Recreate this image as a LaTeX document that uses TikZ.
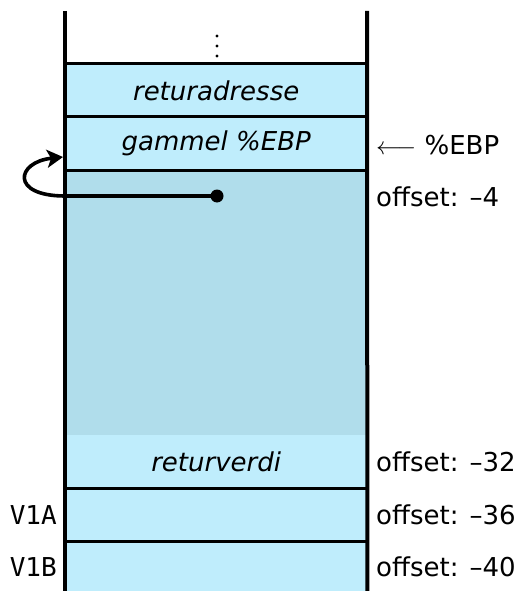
\documentclass[tikz,border=0pt]{standalone}
\usepackage{fontspec}
\setmainfont{DejaVu Sans}
\setmonofont{DejaVu Sans Mono}
\usetikzlibrary{arrows.meta}
\definecolor{cellblue}{HTML}{BFEDFC}
\definecolor{localblue}{HTML}{B0DDEB}
\begin{document}
\begin{tikzpicture}[x=1pt,y=-1pt,
  every node/.style={font=\fontsize{26}{31}\selectfont},
  cell/.style={fill=cellblue, minimum width=302pt, inner sep=0pt, anchor=north west},
  localcell/.style={cell, fill=localblue},
  sep/.style={line width=3pt},
  wall/.style={line width=4pt},
  offs/.style={anchor=west, inner sep=0pt},
  varname/.style={anchor=east, inner sep=0pt, font=\fontsize{26}{31}\selectfont\ttfamily},
  link/.style={line width=3.6pt, -{Stealth[length=16pt,width=18pt,inset=4pt]}}]
\useasboundingbox (0,0) rectangle (519,591);

% stack cells, top to bottom
\node[cell, minimum height=53pt] (ret) at (65,64) {\itshape returadresse};
\node[cell, minimum height=53pt] (ebp) at (65,117) {\itshape gammel \%EBP};
\node[localcell, minimum height=265pt] (loc) at (65,170) {};
\node[cell, minimum height=53pt] (rv) at (65,435) {\itshape returverdi};
\node[cell, minimum height=53pt] (v1a) at (65,488) {};
\node[cell, minimum height=50pt] (v1b) at (65,541) {};

% separators between cells
\draw[sep] (ret.north west) -- (ret.north east);
\draw[sep] (ebp.north west) -- (ebp.north east);
\draw[sep] (loc.north west) -- (loc.north east);
\draw[sep] (v1a.north west) -- (v1a.north east);
\draw[sep] (v1b.north west) -- (v1b.north east);

% stack walls
\coordinate (wlt) at (65,11);
\coordinate (wrt) at (367,11);
\draw[wall] (wlt) -- (v1b.south west);
\draw[wall] (wrt) -- (v1b.south east);

% continuation dots above the stack
\foreach \yy in {36,46,56} \fill (217,\yy) circle (1.6pt);

% saved frame pointer link
\coordinate (dot) at (217,196);
\coordinate (bend) at (65,196);
\coordinate (tip) at (63,157);
\fill (dot) circle (6.5pt);
\draw[link] (dot) -- (bend) .. controls (10,196) and (16,162) .. (tip);

% offsets and register
\node[offs] (reg) at (376,145) {$\longleftarrow$ \%EBP};
\node[offs] (o4) at (376,197) {offset: –4};
\node[offs] (o32) at (376,462) {offset: –32};
\node[offs] (o36) at (376,515) {offset: –36};
\node[offs] (o40) at (376,567) {offset: –40};

% variable names
\node[varname] (na) at (57,515) {V1A};
\node[varname] (nb) at (57,567) {V1B};
\end{tikzpicture}
\end{document}
